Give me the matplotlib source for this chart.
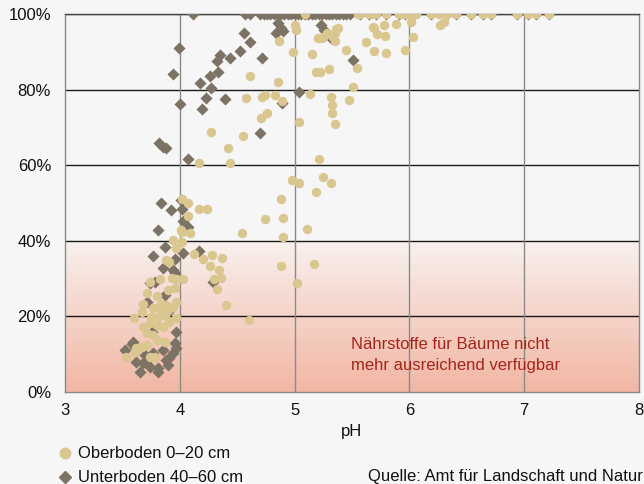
import numpy as np
import matplotlib
matplotlib.use("Agg")
import matplotlib.pyplot as plt
from matplotlib.lines import Line2D
from matplotlib.colors import LinearSegmentedColormap

plt.rcParams['font.family'] = ['Liberation Sans', 'DejaVu Sans']

# ---------------- data ----------------
ober_x = [3.53, 3.61, 3.62, 3.67, 3.71, 3.80, 3.87, 3.74, 3.78,
          3.68, 3.71, 3.77, 3.74, 3.80, 3.855, 3.91,
          3.60, 3.75, 3.81, 3.87, 3.97,
          3.77, 3.83, 3.90, 3.94, 3.68, 3.67,
          3.84, 3.88, 3.965, 3.80, 3.71, 3.90, 3.957,
          3.83, 3.74, 3.93, 3.97, 4.03, 3.88, 3.91,
          3.97, 3.94, 4.02, 4.02, 4.09, 4.01, 4.07, 4.02, 4.07, 4.17, 4.24,
          4.12, 4.20, 4.28, 4.37, 4.26, 4.34, 4.36, 4.30, 4.32, 4.40, 4.60,
          4.54, 4.74, 4.88, 5.02, 5.17,
          4.90, 4.90, 5.11, 4.88, 5.19, 4.98, 5.04, 5.25, 5.32, 5.21,
          4.17, 4.44, 4.42, 4.27, 4.55, 4.61, 4.855, 4.58, 4.72, 4.74, 4.83, 4.89, 4.76, 4.71, 5.04,
          4.86, 4.99, 5.00, 5.01, 5.15, 5.19, 5.20, 5.24, 5.28, 5.35, 5.38, 5.35, 5.33, 5.25, 5.36,
          5.45, 5.22, 5.30, 5.54, 5.51, 5.13, 5.32, 5.33, 5.33, 5.35, 5.47, 5.62, 5.69, 5.72, 5.78,
          5.79, 5.69, 5.80, 5.88, 5.96, 6.01, 6.03, 6.27, 6.30, 5.68,
          5.09, 5.55, 5.57, 5.65, 5.67, 5.71, 5.80, 5.91, 5.93, 5.96, 6.00, 6.04, 6.06, 6.19, 6.26,
          6.33, 6.41, 6.54, 6.64, 6.71, 6.94, 7.03, 7.10, 7.22]
ober_y = [9.3, 10.7, 11.6, 12.0, 12.4, 13.8, 13.3, 9.3, 9.3,
          17.3, 15.5, 15.1, 18.2, 17.7, 17.3, 18.6,
          19.5, 19.9, 19.9, 20.4, 19.5,
          22.1, 22.1, 21.7, 22.4, 23.3, 21.2,
          23.4, 23.0, 23.9, 25.4, 26.1, 27.0, 27.4,
          29.8, 29.2, 30.1, 29.8, 29.8, 34.9, 34.5,
          38.0, 40.2, 39.8, 42.4, 42.1, 42.9, 46.6, 51.0, 50.1, 48.3, 48.3,
          36.5, 35.3, 36.2, 35.5, 33.3, 32.3, 30.2, 29.8, 27.2, 23.0, 19.0,
          42.1, 45.7, 33.3, 28.9, 33.9,
          45.9, 40.9, 43.2, 51.0, 52.8, 56.1, 55.2, 57.0, 55.4, 61.6,
          60.7, 60.5, 64.6, 68.8, 67.7, 83.7, 81.9, 77.7, 78.0, 78.6, 78.6, 77.1, 73.9, 72.6, 71.4,
          92.8, 89.9, 97.1, 95.8, 89.4, 84.7, 93.6, 93.6, 94.9, 94.9, 96.2, 92.8, 94.2, 93.8, 95.9,
          90.5, 84.7, 85.4, 85.6, 80.6, 78.8, 78.0, 75.9, 73.7, 70.8, 77.2, 92.5, 96.4, 94.7, 97.1,
          94.2, 90.1, 89.8, 97.4, 90.4, 98.0, 93.8, 97.1, 98.0, 96.6,
          100, 100, 100, 100, 100, 100, 100, 100, 100, 100, 100, 100, 100, 100, 100,
          100, 100, 100, 100, 100, 100, 100, 100, 100]

unter_x = [4.116, 3.99, 3.94, 4.006, 3.82, 3.855, 3.878, 4.07, 4.174, 4.275, 4.226, 4.19, 4.26,
           4.333, 4.32, 4.354, 4.435, 4.391, 4.528, 4.557, 4.615, 4.72, 4.70, 4.89, 5.037, 4.84,
           4.884, 4.898, 4.855, 5.23, 5.26, 5.32, 5.51,
           3.84, 3.92, 4.01, 4.02, 4.03, 4.07, 3.81, 3.87, 3.77, 3.957, 4.03, 4.17, 3.855, 3.94,
           3.957, 4.29, 3.74, 3.78, 3.87, 3.71, 3.90, 3.965, 3.754, 3.58, 3.52, 3.59,
           3.62, 3.68, 3.74, 3.81, 3.88, 3.94, 3.957, 3.85, 3.77, 3.70, 3.65, 3.81, 3.71, 3.90,
           3.97, 3.91,
           4.57, 4.61, 4.70, 4.73, 4.76, 4.79, 4.82, 4.85, 4.88, 4.91, 4.94, 4.97, 5.00, 5.03,
           5.06, 5.09, 5.12, 5.15, 5.18, 5.21, 5.24, 5.27, 5.30, 5.33, 5.36, 5.39, 5.42, 5.45,
           5.48, 5.57, 5.65, 5.71, 5.80, 5.91, 5.96, 6.04, 6.19, 6.33, 6.41, 6.54, 6.64, 6.71,
           6.94, 7.03, 7.10, 7.22]
unter_y = [100, 90.9, 84.0, 76.1, 65.8, 64.9, 64.5, 61.6, 81.7, 80.3, 77.9, 75.0, 83.6,
           84.6, 87.6, 89.2, 88.3, 77.5, 90.3, 95.1, 92.5, 88.3, 68.6, 76.4, 79.3, 95.1,
           96.2, 95.6, 97.5, 97.0, 95.8, 93.6, 87.7,
           50.1, 48.1, 50.8, 48.3, 45.3, 43.7, 42.9, 38.4, 36.0, 35.1, 36.7, 37.4, 32.7, 32.3,
           31.4, 29.2, 28.8, 29.2, 25.7, 23.9, 21.2, 16.0, 16.0, 12.8, 11.1, 13.3,
           8.0, 7.6, 6.7, 6.3, 8.5, 10.2, 12.9, 11.1, 10.2, 9.8, 5.4, 5.4, 8.5, 7.1,
           11.6, 8.9,
           100, 100, 100, 100, 100, 100, 100, 100, 100, 100, 100, 100, 100, 100,
           100, 100, 100, 100, 100, 100, 100, 100, 100, 100, 100, 100, 100, 100,
           100, 100, 100, 100, 100, 100, 100, 100, 100, 100, 100, 100, 100, 100,
           100, 100, 100, 100]

x_ticks = [3, 4, 5, 6, 7, 8]
y_ticks = [0, 20, 40, 60, 80, 100]
y_tick_labels = ['0%', '20%', '40%', '60%', '80%', '100%']
legend_labels = ['Oberboden 0–20 cm', 'Unterboden 40–60 cm']
zone_label = 'Nährstoffe für Bäume nicht\nmehr ausreichend verfügbar'
zone_top = 40
source_text = 'Quelle: Amt für Landschaft und Natur'
x_label = 'pH'

# ---------------- styles ----------------
BG = '#f6f6f6'
C_OBER = '#dac78f'
C_UNTER = '#7d7364'
C_ZONE_TXT = '#a3261a'

fig = plt.figure(figsize=(6.44, 4.84), dpi=100, facecolor=BG)
ax = fig.add_axes([65/644, 1-392/484, (639-65)/644, (392-14)/484])
ax.set_facecolor(BG)

# gradient zone
cmap = LinearSegmentedColormap.from_list('zone', ['#f2b6a4', '#f8f1ee'])
grad = np.linspace(0, 1, 256).reshape(-1, 1)
ax.imshow(grad, extent=[3, 8, 0, zone_top], origin='lower', aspect='auto',
          cmap=cmap, zorder=0, interpolation='bilinear')
ax.set_xlim(3, 8)
ax.set_ylim(0, 100)

# grid
for yv in y_ticks[1:]:
    ax.axhline(yv, color='#1a1a1a' if yv < 100 else '#444444', lw=1.0, zorder=1)
for xv in x_ticks[1:-1]:
    ax.axvline(xv, color='#8a8a8a', lw=1.0, zorder=1)

for side in ['left', 'bottom', 'right']:
    ax.spines[side].set_color('#8a8a8a')
    ax.spines[side].set_linewidth(1.0)
ax.spines['top'].set_color('#444444')
ax.spines['top'].set_linewidth(1.0)

ax.scatter(unter_x, unter_y, marker='D', s=38, color=C_UNTER, linewidths=0, zorder=3)
ax.scatter(ober_x, ober_y, marker='o', s=46, color=C_OBER, linewidths=0, zorder=4)

ax.set_xticks(x_ticks)
ax.set_yticks(y_ticks)
ax.set_yticklabels(y_tick_labels)
ax.tick_params(length=0, labelsize=12, colors='#111111')
ax.tick_params(axis='y', pad=10)
ax.tick_params(axis='x', pad=8)
ax.set_xlabel(x_label, fontsize=12, labelpad=4, color='#111111')

ax.text(5.495, 9.8, zone_label, fontsize=12, color=C_ZONE_TXT, va='center', ha='left',
        linespacing=1.5, zorder=5)

# legend
fig.add_artist(Line2D([65/644], [1-453/484], marker='o', ms=7.5, color=C_OBER, lw=0,
                      transform=fig.transFigure))
fig.add_artist(Line2D([65/644], [1-477/484], marker='D', ms=6.5, color=C_UNTER, lw=0,
                      transform=fig.transFigure))
fig.text(78/644, 1-453/484, legend_labels[0], fontsize=12, va='center', ha='left', color='#111111')
fig.text(78/644, 1-477/484, legend_labels[1], fontsize=12, va='center', ha='left', color='#111111')
fig.text(368/644, 1-477/484, source_text, fontsize=12, va='center', ha='left', color='#111111')

fig.savefig('out.png', dpi=100, facecolor=BG)
